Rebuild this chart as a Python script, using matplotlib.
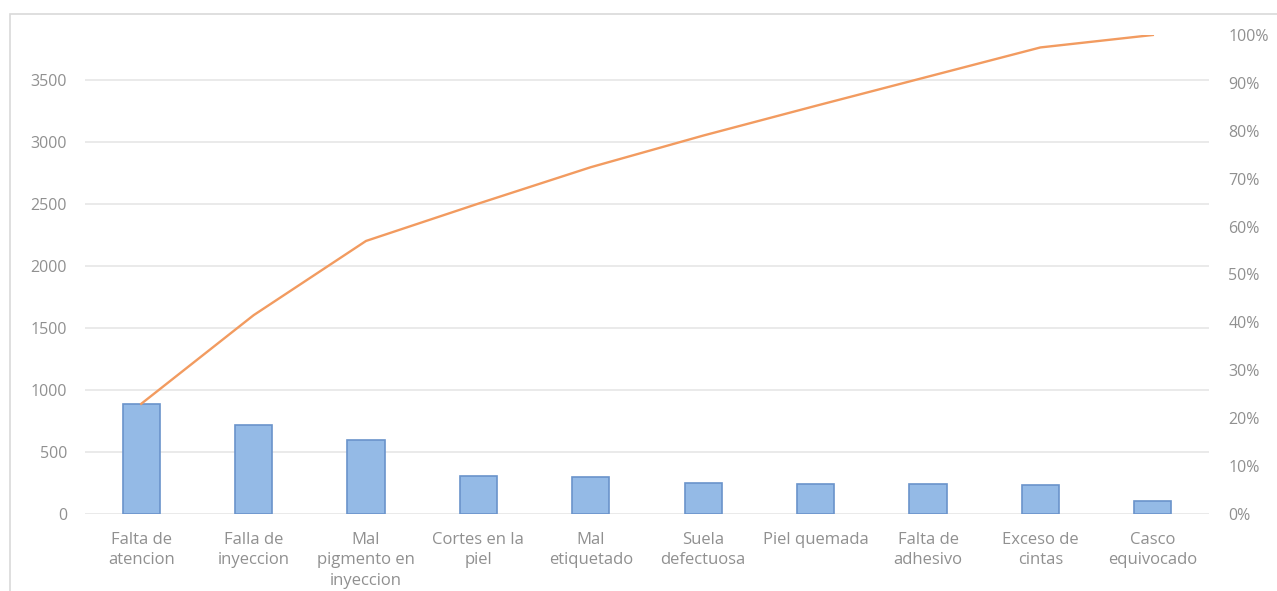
import matplotlib.pyplot as plt
from matplotlib.patches import Rectangle
from matplotlib.ticker import FuncFormatter

plt.rcParams['font.family'] = ['Open Sans', 'DejaVu Sans']

# defect categories and counts
categorias = ["Falta de\natencion", "Falla de\ninyeccion", "Mal\npigmento en\ninyeccion",
              "Cortes en la\npiel", "Mal\netiquetado", "Suela\ndefectuosa", "Piel quemada",
              "Falta de\nadhesivo", "Exceso de\ncintas", "Casco\nequivocado"]
frecuencia = [885, 715, 600, 305, 295, 250, 240, 238, 232, 105]
acumulado = [0.23, 0.415, 0.57, 0.648, 0.724, 0.79, 0.852, 0.913, 0.974, 1.0]
ticks_izq = [0, 500, 1000, 1500, 2000, 2500, 3000, 3500]
ticks_der = [0, 0.1, 0.2, 0.3, 0.4, 0.5, 0.6, 0.7, 0.8, 0.9, 1.0]

gris = '#909090'

fig = plt.figure(figsize=(12.77, 5.91), dpi=100)
ax = fig.add_axes([85 / 1277, 0.1303, 1124 / 1277, 0.8105])

x = list(range(len(categorias)))
ax.bar(x, frecuencia, width=0.33, color='#94BAE6', edgecolor='#6A93CB', linewidth=1.2, zorder=3)
ax.set_xlim(-0.5, len(categorias) - 0.5)
ax.set_ylim(0, sum(frecuencia))
ax.set_yticks(ticks_izq)
ax.set_xticks(x)
ax.set_xticklabels(categorias, linespacing=1.36)
ax.grid(axis='y', color='#E6E6E6', linewidth=1.2, zorder=0)
for s in ax.spines.values():
    s.set_visible(False)
ax.tick_params(axis='both', length=0, colors=gris)
ax.tick_params(axis='y', pad=13, labelsize=11.5)
ax.tick_params(axis='x', pad=13, labelsize=12)

ax2 = ax.twinx()
ax2.plot(x, acumulado, color='#F29B60', linewidth=1.7, zorder=4)
ax2.set_ylim(0, 1.0)
ax2.set_yticks(ticks_der)
ax2.yaxis.set_major_formatter(FuncFormatter(lambda v, p: f"{v*100:.0f}%"))
for s in ax2.spines.values():
    s.set_visible(False)
ax2.tick_params(axis='y', length=0, colors=gris, labelsize=11.5, pad=14)

# light frame around the chart area
fig.patches.append(Rectangle((10 / 1277, -0.05), 1.1, 1 - 14 / 591 + 0.05, transform=fig.transFigure,
                             fill=False, edgecolor='#D9D9D9', linewidth=1.2))

fig.savefig('out.png', dpi=100)
